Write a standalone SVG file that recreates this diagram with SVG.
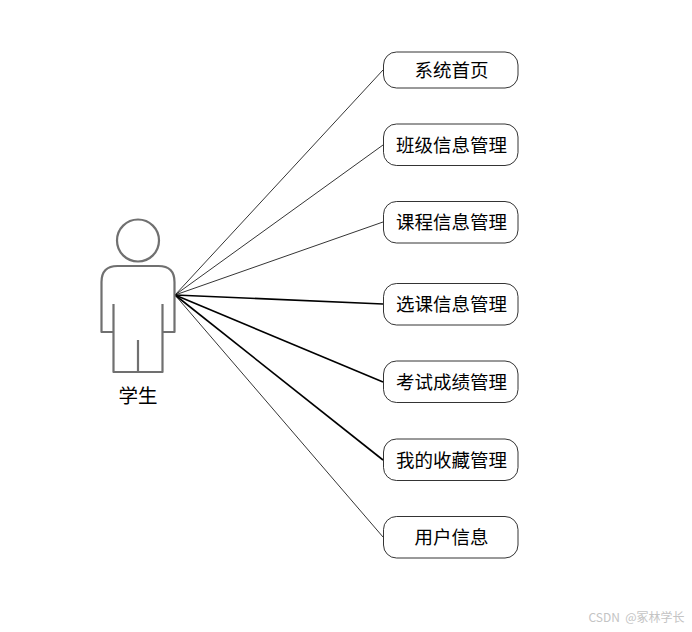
<svg xmlns="http://www.w3.org/2000/svg" width="692" height="632" viewBox="0 0 692 632">
<style>
text{font-family:"Noto Sans CJK SC","Liberation Sans",sans-serif;text-anchor:middle;fill:#000}
.n text{font-size:18.500px}
.n rect{fill:#fff;stroke:#000;stroke-width:.8}
.c line{stroke:#000;stroke-width:.8;fill:none}
.c line.b{stroke-width:1.6}
.a{fill:none;stroke:#707070;stroke-width:2.2;stroke-linejoin:round}
.w{font-size:12px;fill:#c4c4c4}
</style>
<rect width="692" height="632" fill="#fff"/>
<g id="connectors" class="c">
<line x1="175" y1="295" x2="383" y2="70"/>
<line x1="175" y1="295" x2="383" y2="145"/>
<line x1="175" y1="295" x2="383" y2="222"/>
<line class="b" x1="175" y1="295" x2="383" y2="304"/>
<line class="b" x1="175" y1="295" x2="383" y2="382"/>
<line class="b" x1="175" y1="295" x2="383" y2="460"/>
<line x1="175" y1="295" x2="383" y2="537"/>
</g>
<g id="actor">
<circle class="a" cx="138" cy="240.500" r="21"/>
<path class="a" d="M113.500 332H101.500V282Q101.500 266 117.500 266H158.500Q174.500 266 174.500 282V332H162.500M113.500 304V372H162.500V304M138 340V372"/>
<text x="138" y="403" font-size="19.500">学生</text>
</g>
<g id="n1" class="n"><rect x="383.500" y="52" width="134.500" height="36" rx="13"/><text x="451.500" y="76.500">系统首页</text></g>
<g id="n2" class="n"><rect x="383.500" y="124" width="134.500" height="41.500" rx="13"/><text x="451.500" y="151.500">班级信息管理</text></g>
<g id="n3" class="n"><rect x="383.500" y="201.500" width="134.500" height="41.500" rx="13"/><text x="451.500" y="229">课程信息管理</text></g>
<g id="n4" class="n"><rect x="383.500" y="283.500" width="134.500" height="41.500" rx="13"/><text x="451.500" y="311">选课信息管理</text></g>
<g id="n5" class="n"><rect x="383.500" y="361" width="134.500" height="41.500" rx="13"/><text x="451.500" y="389">考试成绩管理</text></g>
<g id="n6" class="n"><rect x="383.500" y="439" width="134.500" height="41.500" rx="13"/><text x="451.500" y="466.500">我的收藏管理</text></g>
<g id="n7" class="n"><rect x="383.500" y="516.500" width="134.500" height="41.500" rx="13"/><text x="451.500" y="544">用户信息</text></g>
<text class="w" x="636.500" y="622" xml:space="preserve">CSDN  @冢林学长</text>
</svg>
